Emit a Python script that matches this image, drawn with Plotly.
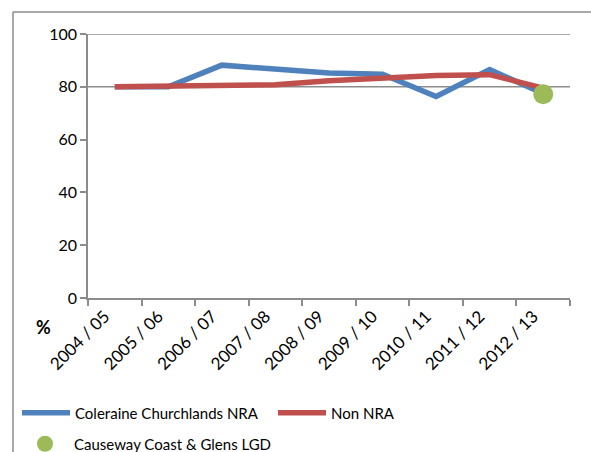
import plotly.graph_objects as go

years = ["2004 / 05", "2005 / 06", "2006 / 07", "2007 / 08", "2008 / 09",
         "2009 / 10", "2010 / 11", "2011 / 12", "2012 / 13"]
coleraine = [80.0, 80.0, 88.2, 86.5, 85.2, 84.8, 76.3, 86.5, 77.5]
non_nra = [80.0, 80.3, 80.5, 80.8, 82.3, 83.5, 84.3, 84.6, 79.5]
lgd_year = ["2012 / 13"]
lgd_value = [77.2]
y_ticks = [0, 20, 40, 60, 80, 100]
gridlines = [80, 100]

FONT = "Lato, 'Open Sans', sans-serif"
AXIS = "#8c8c8c"
PW, PH = 482, 264  # plot area size in px

fig = go.Figure()
fig.add_trace(go.Scatter(x=years, y=coleraine, mode="lines", name="Coleraine Churchlands NRA",
                         line=dict(color="#4F81BD", width=5.5), legend="legend"))
fig.add_trace(go.Scatter(x=years, y=non_nra, mode="lines", name="Non NRA",
                         line=dict(color="#C0504D", width=5.5), legend="legend"))
fig.add_trace(go.Scatter(x=lgd_year, y=lgd_value, mode="markers", name="Causeway Coast & Glens LGD",
                         marker=dict(color="#9BBB59", size=20), legend="legend2"))

shapes = []
for g in gridlines:
    shapes.append(dict(type="line", xref="paper", yref="y", x0=0, x1=1, y0=g, y1=g,
                       line=dict(color=AXIS, width=1.5), layer="below"))
# chart frame: top and left edges (the rest runs off the page)
fx0, fy1 = -75/PW, (298-12)/PH
shapes.append(dict(type="line", xref="paper", yref="paper", x0=fx0, x1=(591-88)/PW,
                   y0=fy1, y1=fy1, line=dict(color=AXIS, width=1.5)))
shapes.append(dict(type="line", xref="paper", yref="paper", x0=fx0, x1=fx0,
                   y0=fy1, y1=-(452-298)/PH, line=dict(color=AXIS, width=1.5)))

leg_common = dict(orientation="h", xanchor="left", yanchor="middle",
                  entrywidth=193, entrywidthmode="pixels", itemwidth=48,
                  font=dict(family=FONT, size=15, color="#000000"),
                  bgcolor="rgba(0,0,0,0)", borderwidth=0)

fig.update_layout(
    width=591, height=452,
    margin=dict(l=88, r=21, t=34, b=154, autoexpand=False),
    paper_bgcolor="white", plot_bgcolor="white",
    font=dict(family=FONT, size=16, color="#000000"),
    shapes=shapes,
    showlegend=True,
    legend=dict(leg_common, x=(17-88)/PW, y=-(413-298)/PH),
    legend2=dict(leg_common, x=(16-88)/PW, y=-(444-298)/PH),
    annotations=[dict(text="<b>%</b>", xref="paper", yref="paper",
                      x=(43-88)/PW, y=-(327-298)/PH, xanchor="center", yanchor="middle",
                      showarrow=False, font=dict(family=FONT, size=18, color="#000"))],
)
fig.update_xaxes(type="category", range=[-0.5, 8.5], showgrid=False, showline=True,
                 linecolor=AXIS, linewidth=1.5, ticks="outside", tickson="boundaries",
                 ticklen=6, tickcolor=AXIS, tickwidth=1.5, tickangle=-45,
                 ticklabelshift=-10, automargin=False,
                 tickfont=dict(family=FONT, size=17), zeroline=False)
fig.update_yaxes(range=[0, 100], tickvals=y_ticks, showgrid=False, showline=True,
                 linecolor=AXIS, linewidth=1.5, ticks="outside", ticklen=6,
                 tickcolor=AXIS, tickwidth=1.5, tickfont=dict(family=FONT, size=16),
                 automargin=False, zeroline=False)

fig.write_html("out.html", config={"displayModeBar": False},
               post_script="document.body.style.margin='0';document.body.style.overflow='hidden';")
